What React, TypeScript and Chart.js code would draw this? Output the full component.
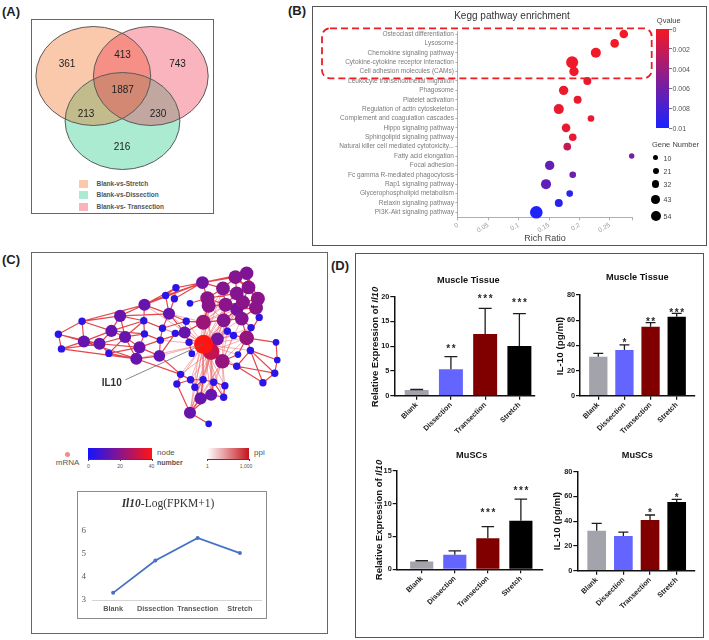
import React, { useEffect, useRef } from "react";
import { Chart, registerables } from "chart.js";

Chart.register(...registerables);

const SANS = '"Liberation Sans", Arial, Helvetica, sans-serif';
const SERIF = '"Liberation Serif", "Times New Roman", Times, serif';

// ================= (A) Venn diagram data =================
const vennSetNames = ["Blank-vs-Stretch", "Blank-vs-Dissection", "Blank-vs- Transection"];
const vennCenterX = [93.3, 122.5, 150.8];
const vennCenterY = [76, 121, 76];
const vennRadiusX = [57.4, 57.4, 57.4];
const vennRadiusY = [49.5, 48.5, 49.5];
const vennCounts = ["361", "413", "743", "1887", "213", "230", "216"];
const vennCountX = [67, 122.5, 177.5, 122.7, 86, 158, 122];
const vennCountY = [64.3, 55, 64.3, 90, 114, 114, 147];

// ================= (B) KEGG enrichment data =================
const keggTerms = [
  "Osteoclast differentiation",
  "Lysosome",
  "Chemokine signaling pathway",
  "Cytokine-cytokine receptor interaction",
  "Cell adhesion molecules (CAMs)",
  "Leukocyte transendothelial migration",
  "Phagosome",
  "Platelet activation",
  "Regulation of actin cytoskeleton",
  "Complement and coagulation cascades",
  "Hippo signaling pathway",
  "Sphingolipid signaling pathway",
  "Natural killer cell mediated cytotoxicity...",
  "Fatty acid elongation",
  "Focal adhesion",
  "Fc gamma R-mediated phagocytosis",
  "Rap1 signaling pathway",
  "Glycerophospholipid metabolism",
  "Relaxin signaling pathway",
  "PI3K-Akt signaling pathway",
];
const keggRichRatio = [0.273, 0.258, 0.227, 0.188, 0.191, 0.213, 0.174, 0.197, 0.166, 0.219, 0.178, 0.189, 0.18, 0.286, 0.151, 0.189, 0.145, 0.184, 0.166, 0.129];
const keggGeneNumber = [42, 42, 55, 73, 49, 36, 49, 36, 55, 24, 42, 33, 33, 13, 49, 24, 55, 24, 36, 78];
const keggQvalue = [0.0001, 0.0001, 0.0002, 0.0003, 0.0003, 0.0004, 0.0004, 0.0005, 0.0005, 0.0006, 0.0006, 0.0007, 0.0023, 0.0058, 0.0066, 0.0062, 0.0068, 0.0091, 0.0093, 0.0097];
const keggXTicks = [0, 0.05, 0.1, 0.15, 0.2, 0.25];
const keggXMax = 0.287;
const keggQTicks = [0, 0.002, 0.004, 0.006, 0.008, 0.01];
const keggQTickLabels = ["0", "0.002", "0.004", "0.006", "0.008", "0.01"];
const keggSizeLegend = [10, 21, 32, 43, 54];

// ================= (C) network data =================
const netX = [50, 53.3, 75.3, 77.3, 94, 104, 106.7, 116, 121.3, 141.3, 142, 136.7, 133.3, 142, 159, 158, 161.3, 168.3, 164.7, 175.7, 174, 190.7, 186.7, 175, 185, 189.7, 192.7, 204, 209.3, 210.7, 226, 239.3, 251.3, 240.7, 253.3, 228.7, 247.3, 263.3, 261.3, 240.7, 205, 226.7, 246, 264.7, 256, 230.7, 237.3, 251.3, 220, 205.3, 213.3, 225.3, 242, 282.7, 255.3, 284, 240.7, 281.3, 268.7, 180.7, 176.7, 191.3, 204.7, 216, 228, 196, 202, 213.3, 226.7, 190.7, 210.7];
const netY = [332.7, 349, 318.3, 340.7, 343.3, 354, 329, 312.3, 335.7, 317.7, 332.3, 347.3, 360, 300, 339.3, 356.7, 326, 310, 289.7, 281, 293.3, 298.3, 318.3, 331.7, 330.7, 341.7, 354.3, 275.3, 292.7, 301, 281.7, 269.3, 265, 287.3, 280.7, 300, 297.3, 293.3, 303.3, 305, 319.3, 317.3, 315.3, 314, 325.3, 329.3, 334, 336.7, 338, 344, 352, 362.7, 355.3, 341.7, 350.7, 361.3, 368.3, 376, 386.7, 377.3, 388, 383.3, 383.3, 386, 390, 391.7, 404, 400, 402.7, 420, 432.3];
const netDegree = [4, 4, 4, 14, 14, 4, 14, 14, 14, 4, 4, 14, 14, 14, 4, 13, 4, 14, 4, 4, 4, 3, 4, 4, 14, 4, 3, 16, 20, 20, 19, 19, 18, 19, 19, 20, 20, 20, 20, 17, 23, 19, 19, 4, 4, 4, 4, 22, 16, 40, 30, 22, 3, 3, 4, 3, 4, 4, 4, 4, 4, 4, 4, 4, 4, 4, 14, 14, 4, 14, 3];
const netEdges = [
  [0, 1], [0, 2], [0, 3], [0, 4], [1, 3], [1, 4], [1, 12], [2, 3], [2, 6], [2, 7], [2, 13], [3, 4], [3, 6], [3, 12],
  [4, 5], [4, 6], [4, 8], [4, 11], [5, 8], [5, 11], [5, 12], [6, 7], [6, 8], [6, 9], [6, 10], [7, 8], [7, 9], [7, 13],
  [7, 17], [8, 9], [8, 10], [8, 11], [8, 12], [9, 10], [9, 13], [9, 16], [10, 11], [10, 14], [11, 12], [11, 14], [11, 15],
  [12, 15], [12, 59], [13, 17], [13, 18], [13, 19], [13, 27], [14, 15], [14, 16], [14, 24], [15, 23], [15, 59], [16, 17],
  [16, 22], [17, 18], [17, 20], [17, 22], [17, 24], [18, 19], [18, 27], [19, 20], [19, 27], [20, 27], [21, 28], [22, 24],
  [22, 40], [23, 24], [24, 25], [24, 40], [25, 26],
  [27, 28], [27, 30], [27, 31], [27, 32], [28, 29], [28, 30], [28, 33], [28, 35], [29, 35], [29, 40], [30, 31], [30, 33],
  [30, 35], [31, 32], [31, 33], [31, 34], [31, 37], [32, 34], [32, 37], [32, 38], [33, 34], [33, 35], [33, 36], [34, 36],
  [34, 37], [35, 36], [35, 39], [35, 41], [36, 37], [36, 38], [36, 39], [37, 38], [38, 39], [38, 42], [38, 43], [39, 41],
  [39, 42], [40, 41], [41, 42], [42, 44], [42, 47], [43, 47], [44, 47], [45, 46], [45, 41], [46, 47],
  [47, 53], [47, 54], [47, 52], [54, 55], [54, 56], [54, 57], [54, 58], [56, 57], [56, 58], [57, 58], [55, 57], [53, 55],
  [51, 52], [51, 56],
  [59, 60], [59, 61], [60, 61], [60, 69], [61, 62], [61, 65], [62, 63], [62, 65], [62, 66], [63, 64], [63, 67], [63, 68],
  [64, 68], [65, 66], [66, 67], [66, 69], [67, 68], [67, 69], [69, 70],
];
const netHubFans = [
  [49, [24, 25, 16, 22, 13, 17, 9, 14, 28, 29, 30, 33, 35, 36, 39, 40, 41, 42, 44, 45, 46, 47, 48, 50, 51, 52, 54, 56, 59, 60, 61, 62, 63, 64, 65, 66, 67, 68, 69, 23, 26, 12, 15]],
  [50, [28, 35, 36, 39, 40, 41, 47, 51, 59, 61, 62, 63, 65, 66, 67, 69, 45]],
  [51, [41, 42, 45, 46, 47, 63, 64, 66, 67, 68, 69]],
  [40, [24, 28, 29, 30, 33, 35, 36, 39, 41, 48, 17, 22]],
  [48, [39, 41, 45, 46]],
  [69, [40, 48, 41]],
  [29, [39, 41]],
  [35, [42]],
  [36, [42, 30]],
  [33, [39]],
];
const netLabelText = "IL10";
const netLabelNode = 49;
const netLabelX = 107;
const netLabelY = 387;
const netLeaderX = 121.7;
const netLeaderY = 383.3;
const nodeScaleTicks = ["0", "20", "40"];
const ppiScaleTicks = ["1", "1,000"];

const fpkmCategories = ["Blank", "Dissection", "Transection", "Stretch"];
const fpkmValues = [3.31, 4.72, 5.7, 5.04];

// ================= (D) bar chart data =================
const groupNames = ["Blank", "Dissection", "Transection", "Stretch"];
const tissueIl10Mean = [1.15, 5.33, 12.46, 10.04];
const tissueIl10Err = [0.1, 2.57, 5.2, 6.53];
const tissueIl10Stars = ["", "**", "***", "***"];
const tissueIl10StarAt = [0, 10.0, 20.1, 19.2];

const tissueProteinMean = [31, 36.3, 54.8, 62.8];
const tissueProteinErr = [2.6, 4.0, 3.2, 2.6];
const tissueProteinStars = ["", "*", "**", "***"];
const tissueProteinStarAt = [0, 43.7, 60.7, 68.1];

const muscIl10Mean = [1.17, 2.23, 4.71, 7.39];
const muscIl10Err = [0.13, 0.56, 1.78, 3.29];
const muscIl10Stars = ["", "", "***", "***"];
const muscIl10StarAt = [0, 0, 9.0, 12.4];

const muscProteinMean = [32.3, 28, 41, 55.5];
const muscProteinErr = [5.9, 3.2, 4.0, 2.1];
const muscProteinStars = ["", "", "*", "*"];
const muscProteinStarAt = [0, 0, 49.0, 61.2];

// ================= styles / helpers =================
const vennFill = ["rgba(241,98,12,0.35)", "rgba(12,198,126,0.35)", "rgba(241,41,69,0.35)"];
const vennSwatch = ["rgb(250,200,170)", "rgb(170,235,210)", "rgb(250,180,190)"];
const groupColors = ["#a3a3ab", "#6464ff", "#800000", "#000000"];

const geneRadius = (g: number) => 2 + 0.055 * g;
const qColor = (q: number) => {
  const t = Math.max(0, Math.min(1, q / 0.01));
  const r = Math.round(245 + (25 - 245) * t);
  const g = Math.round(25 + 10 * t);
  const b = Math.round(35 + 220 * t);
  return `rgb(${r},${g},${b})`;
};
const nodeRadius = (d: number) => 1 + 1.35 * Math.sqrt(d);
const nodeColor = (d: number) => {
  const t = Math.max(0, Math.min(1, d / 40));
  return `rgb(${Math.round(20 + 235 * t)},20,${Math.round(255 - 235 * t)})`;
};

type Rect = { left: number; top: number; width: number; height: number };
type Area = { left: number; top: number; right: number; bottom: number };

const C_VENN: Rect = { left: 32, top: 20, width: 181, height: 152 };
const C_KEGG: Rect = { left: 313, top: 7, width: 393, height: 238 };
const A_KEGG: Area = { left: 457.9, top: 31.2, right: 632.3, bottom: 217.3 };
const C_NET: Rect = { left: 32, top: 253, width: 295, height: 190 };
const C_LINE: Rect = { left: 79, top: 493, width: 186, height: 124 };
const A_LINE: Area = { left: 92, top: 531, right: 261, bottom: 600 };

const barLayouts = [
  { canvas: { left: 376, top: 283, width: 168, height: 157 }, area: { left: 394.3, top: 296.7, right: 535, bottom: 395.7 }, xMin: -0.654, xMax: 3.456, yMax: 20, yStep: 5 },
  { canvas: { left: 562, top: 283, width: 140, height: 157 }, area: { left: 580, top: 295, right: 695, bottom: 395.7 }, xMin: -0.7, xMax: 3.7, yMax: 80, yStep: 20 },
  { canvas: { left: 378, top: 458, width: 170, height: 158 }, area: { left: 396.7, top: 470.7, right: 542.7, bottom: 569.3 }, xMin: -0.757, xMax: 3.66, yMax: 15, yStep: 5 },
  { canvas: { left: 560, top: 458, width: 142, height: 158 }, area: { left: 577.3, top: 471.7, right: 695, bottom: 570.7 }, xMin: -0.727, xMax: 3.686, yMax: 80, yStep: 20 },
];
const barData = [
  { mean: tissueIl10Mean, err: tissueIl10Err, stars: tissueIl10Stars, starAt: tissueIl10StarAt },
  { mean: tissueProteinMean, err: tissueProteinErr, stars: tissueProteinStars, starAt: tissueProteinStarAt },
  { mean: muscIl10Mean, err: muscIl10Err, stars: muscIl10Stars, starAt: muscIl10StarAt },
  { mean: muscProteinMean, err: muscProteinErr, stars: muscProteinStars, starAt: muscProteinStarAt },
];

const baseOpts = (pad: any) => ({
  animation: false as const,
  responsive: false,
  maintainAspectRatio: false,
  events: [] as any[],
  layout: { padding: pad },
  plugins: { legend: { display: false }, tooltip: { enabled: false }, title: { display: false } },
});

function vennChart(canvas: HTMLCanvasElement) {
  const plugin = {
    id: "vennDraw",
    afterDatasetsDraw(chart: any) {
      const { ctx } = chart;
      const xs = chart.scales.x;
      const ys = chart.scales.y;
      const kx = Math.abs(xs.getPixelForValue(1) - xs.getPixelForValue(0));
      const ky = Math.abs(ys.getPixelForValue(1) - ys.getPixelForValue(0));
      const path = (i: number) => {
        ctx.beginPath();
        ctx.ellipse(xs.getPixelForValue(vennCenterX[i]), ys.getPixelForValue(vennCenterY[i]), vennRadiusX[i] * kx, vennRadiusY[i] * ky, 0, 0, Math.PI * 2);
      };
      ctx.save();
      [1, 0, 2].forEach((i) => {
        path(i);
        ctx.fillStyle = vennFill[i];
        ctx.fill();
      });
      [1, 0, 2].forEach((i) => {
        path(i);
        ctx.strokeStyle = "#5a5a5a";
        ctx.lineWidth = 1;
        ctx.stroke();
      });
      ctx.fillStyle = "#222";
      ctx.font = `10px ${SANS}`;
      ctx.textAlign = "center";
      ctx.textBaseline = "middle";
      vennCounts.forEach((t, i) => ctx.fillText(t, xs.getPixelForValue(vennCountX[i]), ys.getPixelForValue(vennCountY[i])));
      ctx.restore();
    },
  };
  return new Chart(canvas, {
    type: "scatter",
    data: { datasets: [{ data: vennCountX.map((x, i) => ({ x, y: vennCountY[i] })), pointRadius: 0 }] },
    options: {
      ...baseOpts(0),
      scales: {
        x: { display: false, min: C_VENN.left, max: C_VENN.left + C_VENN.width },
        y: { display: false, min: C_VENN.top, max: C_VENN.top + C_VENN.height, reverse: true },
      },
    } as any,
    plugins: [plugin],
  });
}

function keggChart(canvas: HTMLCanvasElement) {
  return new Chart(canvas, {
    type: "bubble",
    data: {
      datasets: [
        {
          data: keggRichRatio.map((x, i) => ({ x, y: i, r: geneRadius(keggGeneNumber[i]) })),
          backgroundColor: keggQvalue.map(qColor),
          borderWidth: 0,
          clip: false,
        } as any,
      ],
    },
    options: {
      ...baseOpts({ top: A_KEGG.top - C_KEGG.top, right: C_KEGG.left + C_KEGG.width - A_KEGG.right, left: 0, bottom: 0 }),
      scales: {
        x: {
          type: "linear",
          min: 0,
          max: keggXMax,
          afterBuildTicks: (s: any) => {
            s.ticks = [...keggXTicks, keggXMax].map((v) => ({ value: v }));
          },
          afterFit: (s: any) => {
            s.height = C_KEGG.top + C_KEGG.height - A_KEGG.bottom;
          },
          ticks: {
            callback: (v: any) => (keggXTicks.includes(v) ? String(v) : ""),
            minRotation: 30,
            maxRotation: 30,
            autoSkip: false,
            padding: 1,
            color: "#9a9a9a",
            font: { family: SANS, size: 6.5 },
          },
          grid: { display: true, drawOnChartArea: false, drawTicks: true, tickLength: 3, color: "#9a9a9a", lineWidth: 0.8 },
          border: { display: true, color: "#9a9a9a", width: 0.8 },
        },
        y: {
          type: "linear",
          min: -0.3,
          max: 19.53,
          reverse: true,
          afterBuildTicks: (s: any) => {
            s.ticks = keggTerms.map((_, i) => ({ value: i }));
          },
          afterFit: (s: any) => {
            s.width = A_KEGG.left - C_KEGG.left;
          },
          ticks: {
            callback: (v: any) => keggTerms[v],
            autoSkip: false,
            padding: 1.5,
            color: "#7a7a7a",
            font: { family: SANS, size: 6.5 },
          },
          grid: { display: true, drawOnChartArea: false, drawTicks: true, tickLength: 2.5, color: "#9a9a9a", lineWidth: 0.8 },
          border: { display: true, color: "#9a9a9a", width: 0.8 },
        },
      },
    } as any,
  });
}

function networkChart(canvas: HTMLCanvasElement) {
  const order = netDegree.map((_, i) => i).sort((a, b) => netDegree[a] - netDegree[b]);
  const edgePoints = (pairs: number[][]) =>
    pairs.flatMap(([a, b]) => [
      { x: netX[a], y: netY[a] },
      { x: netX[b], y: netY[b] },
      { x: netX[b], y: null },
    ]);
  const hubPairs = netHubFans.flatMap(([h, list]: any) => list.map((t: number) => [h, t]));
  const plugin = {
    id: "netLabel",
    afterDatasetsDraw(chart: any) {
      const { ctx } = chart;
      const xs = chart.scales.x;
      const ys = chart.scales.y;
      ctx.save();
      ctx.strokeStyle = "#6a6a6a";
      ctx.lineWidth = 0.8;
      ctx.beginPath();
      ctx.moveTo(xs.getPixelForValue(netLeaderX), ys.getPixelForValue(netLeaderY));
      ctx.lineTo(xs.getPixelForValue(netX[netLabelNode] - 1), ys.getPixelForValue(netY[netLabelNode]));
      ctx.stroke();
      ctx.fillStyle = "#333";
      ctx.font = `bold 10px ${SANS}`;
      ctx.textAlign = "center";
      ctx.textBaseline = "middle";
      ctx.fillText(netLabelText, xs.getPixelForValue(netLabelX), ys.getPixelForValue(netLabelY));
      ctx.restore();
    },
  };
  return new Chart(canvas, {
    type: "scatter",
    data: {
      datasets: [
        {
          data: order.map((i) => ({ x: netX[i], y: netY[i] })),
          pointRadius: order.map((i) => nodeRadius(netDegree[i])),
          pointBackgroundColor: order.map((i) => nodeColor(netDegree[i])),
          pointBorderWidth: 0,
          order: 0,
        },
        {
          data: edgePoints(netEdges),
          showLine: true,
          spanGaps: false,
          pointRadius: 0,
          borderColor: "rgba(222,38,44,0.85)",
          borderWidth: 1.2,
          order: 1,
        },
        {
          data: edgePoints(hubPairs),
          showLine: true,
          spanGaps: false,
          pointRadius: 0,
          borderColor: "rgba(236,105,108,0.55)",
          borderWidth: 1,
          order: 2,
        },
      ] as any,
    },
    options: {
      ...baseOpts(0),
      scales: {
        x: { display: false, min: C_NET.left, max: C_NET.left + C_NET.width },
        y: { display: false, min: C_NET.top, max: C_NET.top + C_NET.height, reverse: true },
      },
    } as any,
    plugins: [plugin],
  });
}

function lineChart(canvas: HTMLCanvasElement) {
  return new Chart(canvas, {
    type: "line",
    data: {
      labels: fpkmCategories,
      datasets: [
        {
          data: fpkmValues,
          borderColor: "#4472c4",
          backgroundColor: "#4472c4",
          borderWidth: 1.8,
          pointRadius: 2,
          pointBorderWidth: 0,
          tension: 0,
        },
      ],
    },
    options: {
      ...baseOpts({ top: A_LINE.top - C_LINE.top, right: C_LINE.left + C_LINE.width - A_LINE.right, left: 0, bottom: 0 }),
      scales: {
        x: {
          type: "category",
          offset: true,
          afterFit: (s: any) => {
            s.height = C_LINE.top + C_LINE.height - A_LINE.bottom;
          },
          ticks: { color: "#595959", padding: 5, font: { family: SANS, size: 7.3, weight: "bold" }, maxRotation: 0, autoSkip: false },
          grid: { display: false, drawTicks: false },
          border: { display: true, color: "#d4d4d4", width: 1 },
        },
        y: {
          min: 3,
          max: 6,
          afterFit: (s: any) => {
            s.width = A_LINE.left - C_LINE.left;
          },
          ticks: { stepSize: 1, color: "#595959", padding: 6, font: { family: SERIF, size: 9 } },
          grid: { display: false, drawTicks: false },
          border: { display: false },
        },
      },
    } as any,
  });
}

function barChart(canvas: HTMLCanvasElement, k: number) {
  const L = barLayouts[k];
  const D = barData[k];
  const plugin = {
    id: "errStars",
    afterDatasetsDraw(chart: any) {
      const { ctx } = chart;
      const ys = chart.scales.y;
      const meta = chart.getDatasetMeta(0);
      ctx.save();
      meta.data.forEach((bar: any, i: number) => {
        const x = bar.x;
        const w = bar.width;
        const y0 = ys.getPixelForValue(D.mean[i]);
        const y1 = ys.getPixelForValue(D.mean[i] + D.err[i]);
        ctx.strokeStyle = "#1e1e1e";
        ctx.lineWidth = 1.3;
        ctx.beginPath();
        ctx.moveTo(x, y0);
        ctx.lineTo(x, y1);
        ctx.moveTo(x - w * 0.27, y1);
        ctx.lineTo(x + w * 0.27, y1);
        ctx.stroke();
        if (D.stars[i]) {
          ctx.fillStyle = "#2a2a2a";
          ctx.font = `bold 10px ${SANS}`;
          (ctx as any).letterSpacing = "1.6px";
          ctx.textAlign = "center";
          ctx.textBaseline = "alphabetic";
          ctx.fillText(D.stars[i], x + 0.8, ys.getPixelForValue(D.starAt[i]) + 5.8);
        }
      });
      ctx.restore();
    },
  };
  const tickFont = { family: SANS, size: 7.3, weight: "bold" };
  return new Chart(canvas, {
    type: "bar",
    data: {
      datasets: [
        {
          data: D.mean.map((v, i) => ({ x: i, y: v })),
          backgroundColor: groupColors,
          borderWidth: 0,
          barPercentage: 0.7,
          categoryPercentage: 1,
        },
      ],
    },
    options: {
      ...baseOpts({ top: L.area.top - L.canvas.top, right: L.canvas.left + L.canvas.width - L.area.right, left: 0, bottom: 0 }),
      scales: {
        x: {
          type: "linear",
          min: L.xMin,
          max: L.xMax,
          offset: false,
          afterBuildTicks: (s: any) => {
            s.ticks = groupNames.map((_, i) => ({ value: i }));
          },
          afterFit: (s: any) => {
            s.height = L.canvas.top + L.canvas.height - L.area.bottom;
          },
          ticks: {
            callback: (v: any) => groupNames[v],
            minRotation: 45,
            maxRotation: 45,
            autoSkip: false,
            padding: 1,
            color: "#1a1a1a",
            font: tickFont,
          },
          grid: { display: true, offset: false, drawOnChartArea: false, drawTicks: true, tickLength: 4, color: "#111", lineWidth: 1.2 },
          border: { display: true, color: "#111", width: 1.5 },
        },
        y: {
          min: 0,
          max: L.yMax,
          afterFit: (s: any) => {
            s.width = L.area.left - L.canvas.left;
          },
          ticks: { stepSize: L.yStep, padding: 1, color: "#1a1a1a", font: tickFont },
          grid: { display: true, drawOnChartArea: false, drawTicks: true, tickLength: 4, color: "#111", lineWidth: 1.2 },
          border: { display: true, color: "#111", width: 1.5 },
        },
      },
    } as any,
    plugins: [plugin],
  });
}

// ================= HTML helpers =================
const T = (p: any) => {
  const tx = p.a === "center" ? "-50%" : p.a === "right" ? "-100%" : "0";
  return (
    <div
      style={{
        position: "absolute",
        left: p.x,
        top: p.y,
        fontSize: p.s,
        fontWeight: p.w || 400,
        color: p.c || "#222",
        fontFamily: p.f || SANS,
        fontStyle: p.it ? "italic" : "normal",
        whiteSpace: "nowrap",
        lineHeight: 1,
        transform: `translate(${tx}, -50%)${p.rot ? ` rotate(${p.rot}deg)` : ""}`,
      }}
    >
      {p.children}
    </div>
  );
};
const Box = (p: any) => (
  <div
    style={{
      position: "absolute",
      left: p.x,
      top: p.y,
      width: p.w,
      height: p.h,
      boxSizing: "border-box",
      border: `${p.bw || 1}px solid ${p.c || "#666"}`,
      background: p.bg,
      borderRadius: p.r,
    }}
  />
);
const cv = (r: Rect): React.CSSProperties => ({ position: "absolute", left: r.left, top: r.top, width: r.width, height: r.height });

export default function App() {
  const vennRef = useRef<HTMLCanvasElement>(null);
  const keggRef = useRef<HTMLCanvasElement>(null);
  const netRef = useRef<HTMLCanvasElement>(null);
  const lineRef = useRef<HTMLCanvasElement>(null);
  const b0 = useRef<HTMLCanvasElement>(null);
  const b1 = useRef<HTMLCanvasElement>(null);
  const b2 = useRef<HTMLCanvasElement>(null);
  const b3 = useRef<HTMLCanvasElement>(null);

  useEffect(() => {
    const charts: Chart[] = [];
    if (vennRef.current) charts.push(vennChart(vennRef.current));
    if (keggRef.current) charts.push(keggChart(keggRef.current));
    if (netRef.current) charts.push(networkChart(netRef.current));
    if (lineRef.current) charts.push(lineChart(lineRef.current));
    [b0, b1, b2, b3].forEach((r, k) => {
      if (r.current) charts.push(barChart(r.current, k));
    });
    return () => charts.forEach((c) => c.destroy());
  }, []);

  const sizeLegendY = [157.7, 170.7, 184, 199.3, 216];
  const swatchY = [184, 195.3, 206.7];

  return (
    <div style={{ position: "absolute", left: 0, top: 0, width: 709, height: 640, background: "#fff", overflow: "hidden", fontFamily: SANS }}>
      {/* frames */}
      <Box x={31} y={19} w={183} h={195} c="#666" />
      <Box x={312} y={6} w={395} h={240} c="#555" />
      <Box x={31} y={252} w={297} h={382} c="#666" />
      <Box x={355} y={253} w={349} h={385} c="#555" />
      <Box x={77} y={491} w={190} h={128} c="#8c8c8c" bw={1.5} />

      {/* panel letters */}
      <T x={2} y={10.5} s={13} w={700} c="#222">(A)</T>
      <T x={288} y={9.5} s={13} w={700} c="#222">(B)</T>
      <T x={2} y={259} s={13} w={700} c="#222">(C)</T>
      <T x={331} y={264.5} s={13} w={700} c="#222">(D)</T>

      {/* A */}
      <canvas ref={vennRef} width={C_VENN.width} height={C_VENN.height} style={cv(C_VENN)} />
      {vennSetNames.map((n, i) => (
        <React.Fragment key={n}>
          <div style={{ position: "absolute", left: 79, top: swatchY[i] - 4, width: 8.5, height: 8, background: vennSwatch[i] }} />
          <T x={96.5} y={swatchY[i]} s={6.5} w={700} c="#555">{n}</T>
        </React.Fragment>
      ))}

      {/* B */}
      <canvas ref={keggRef} width={C_KEGG.width} height={C_KEGG.height} style={cv(C_KEGG)} />
      <T x={512} y={16} s={10} c="#333" a="center">Kegg pathway enrichment</T>
      <T x={545} y={238} s={9} c="#444" a="center">Rich Ratio</T>
      <svg style={{ position: "absolute", left: 0, top: 0, width: 709, height: 250, pointerEvents: "none" }} width={709} height={250}>
        <rect x={322} y={28.3} width={329.7} height={50} rx={8} ry={8} fill="none" stroke="#ee1c24" strokeWidth={1.8} strokeDasharray="7 4" />
      </svg>
      <T x={668.7} y={21} s={7.5} c="#444" a="center">Qvalue</T>
      <div style={{ position: "absolute", left: 656, top: 29, width: 13, height: 99, background: `linear-gradient(to bottom, ${qColor(0)}, ${qColor(0.005)}, ${qColor(0.01)})` }} />
      {keggQTicks.map((q, i) => (
        <React.Fragment key={q}>
          <div style={{ position: "absolute", left: 669, top: 29 + (q / 0.01) * 99 - 0.4, width: 2.5, height: 0.8, background: "#777" }} />
          <T x={672.5} y={29 + (q / 0.01) * 99} s={7} c="#555">{keggQTickLabels[i]}</T>
        </React.Fragment>
      ))}
      <T x={675.5} y={145} s={7.5} c="#444" a="center">Gene Number</T>
      {keggSizeLegend.map((g, i) => {
        const r = geneRadius(g);
        return (
          <React.Fragment key={g}>
            <div style={{ position: "absolute", left: 655.7 - r, top: sizeLegendY[i] - r, width: 2 * r, height: 2 * r, borderRadius: "50%", background: "#000" }} />
            <T x={663.5} y={sizeLegendY[i]} s={7} c="#444">{String(g)}</T>
          </React.Fragment>
        );
      })}

      {/* C */}
      <canvas ref={netRef} width={C_NET.width} height={C_NET.height} style={cv(C_NET)} />
      <div style={{ position: "absolute", left: 64.8, top: 451.5, width: 5, height: 5, borderRadius: "50%", background: "#f28b8b" }} />
      <T x={67.5} y={462.5} s={8} c="#555" a="center">mRNA</T>
      <div style={{ position: "absolute", left: 88, top: 448, width: 64, height: 10.5, background: `linear-gradient(to right, ${nodeColor(0)}, ${nodeColor(20)}, ${nodeColor(40)})` }} />
      <div style={{ position: "absolute", left: 88, top: 458.5, width: 64, height: 0.8, background: "#444" }} />
      {nodeScaleTicks.map((t, i) => (
        <React.Fragment key={t}>
          <div style={{ position: "absolute", left: 88 + i * 32 - 0.4, top: 458.5, width: 0.8, height: 2.5, background: "#444" }} />
          <T x={88.5 + i * 31.5} y={465.5} s={5} c="#555" a="center">{t}</T>
        </React.Fragment>
      ))}
      <T x={157} y={453} s={8} c="#555">node</T>
      <T x={157} y={461.5} s={7} w={700} c="#555">number</T>
      <div style={{ position: "absolute", left: 207, top: 448, width: 42, height: 10.5, background: "linear-gradient(to right, #ffffff, #c4141c)" }} />
      <div style={{ position: "absolute", left: 207, top: 458.5, width: 42, height: 0.8, background: "#444" }} />
      <div style={{ position: "absolute", left: 206.6, top: 458.5, width: 0.8, height: 2.5, background: "#444" }} />
      <div style={{ position: "absolute", left: 248.6, top: 458.5, width: 0.8, height: 2.5, background: "#444" }} />
      <T x={207.5} y={465.5} s={5} c="#555" a="center">{ppiScaleTicks[0]}</T>
      <T x={246} y={465.5} s={5} c="#555" a="center">{ppiScaleTicks[1]}</T>
      <T x={254} y={453} s={8} c="#555">ppi</T>

      <canvas ref={lineRef} width={C_LINE.width} height={C_LINE.height} style={cv(C_LINE)} />
      <T x={168} y={504} s={11.5} f={SERIF} c="#333" a="center">
        <span style={{ fontStyle: "italic", fontWeight: 700 }}>Il10</span>-Log(FPKM+1)
      </T>

      {/* D */}
      {[b0, b1, b2, b3].map((r, k) => (
        <canvas key={k} ref={r} width={barLayouts[k].canvas.width} height={barLayouts[k].canvas.height} style={cv(barLayouts[k].canvas)} />
      ))}
      <T x={468.3} y={281} s={9.2} w={700} c="#111" a="center">Muscle Tissue</T>
      <T x={637.3} y={278.3} s={9.2} w={700} c="#111" a="center">Muscle Tissue</T>
      <T x={471.7} y={455.7} s={9.2} w={700} c="#111" a="center">MuSCs</T>
      <T x={637.3} y={455.7} s={9.2} w={700} c="#111" a="center">MuSCs</T>
      <T x={375} y={346.5} s={9.5} w={700} c="#111" a="center" rot={-90}>
        Relative Expression of <i>Il10</i>
      </T>
      <T x={559.5} y={346} s={9.8} w={700} c="#111" a="center" rot={-90}>IL-10 (pg/ml)</T>
      <T x={379.3} y={520} s={9.5} w={700} c="#111" a="center" rot={-90}>
        Relative Expression of <i>Il10</i>
      </T>
      <T x={557.3} y={521} s={9.8} w={700} c="#111" a="center" rot={-90}>IL-10 (pg/ml)</T>
    </div>
  );
}
